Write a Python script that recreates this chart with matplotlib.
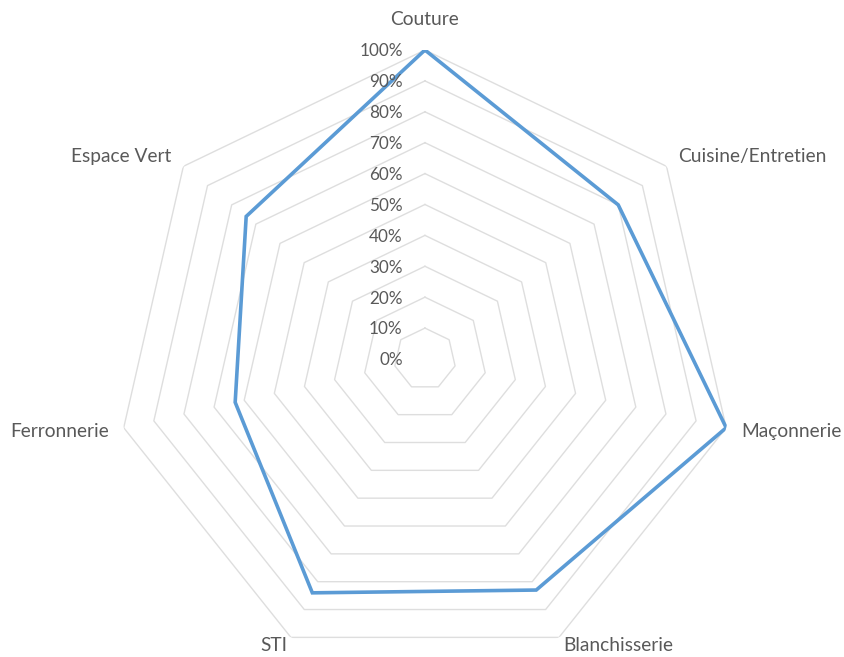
import numpy as np
import matplotlib
matplotlib.use('Agg')
import matplotlib.pyplot as plt

categories = ['Couture', 'Cuisine/Entretien', 'Maçonnerie', 'Blanchisserie',
              'STI', 'Ferronnerie', 'Espace Vert']
values = [1.00, 0.80, 1.00, 0.83, 0.84, 0.63, 0.74]
ticks = [0.0, 0.1, 0.2, 0.3, 0.4, 0.5, 0.6, 0.7, 0.8, 0.9, 1.0]
tick_labels = ['0%', '10%', '20%', '30%', '40%', '50%', '60%', '70%', '80%', '90%', '100%']

plt.rcParams['font.family'] = ['Lato', 'DejaVu Sans']
text_color = '#595959'
grid_color = '#dedede'
line_color = '#5b9bd5'

n = len(categories)
angles = np.linspace(0, 2 * np.pi, n, endpoint=False)
closed = np.append(angles, angles[0])

fig = plt.figure(figsize=(8.44, 6.57), dpi=100)
ax = fig.add_axes([0.1374, -0.0167, 0.7322, 0.9406], projection='polar')
ax.set_theta_offset(np.pi / 2)
ax.set_theta_direction(-1)
ax.set_ylim(0, 1)
ax.grid(False)
ax.spines['polar'].set_visible(False)
ax.set_xticks([])
ax.set_yticks([])
ax.patch.set_visible(False)

# heptagon rings
for t in ticks[1:]:
    ax.plot(closed, [t] * (n + 1), color=grid_color, lw=1, zorder=1)

# data
ax.plot(closed, values + values[:1], color=line_color, lw=2.6, zorder=3,
        solid_joinstyle='miter')

# radial tick labels
for t, lab in zip(ticks, tick_labels):
    ax.annotate(lab, xy=(0, t), xytext=(-16, -1), textcoords='offset points',
                ha='right', va='center', fontsize=12.3, color=text_color, zorder=4)

# category labels
align = ['center', 'left', 'left', 'left', 'right', 'right', 'right']
radius = [1.1, 1.05, 1.05, 1.03, 1.03, 1.05, 1.05]
for a, lab, ha, r in zip(angles, categories, align, radius):
    ax.text(a, r, lab, ha=ha, va='center', fontsize=13.8, color=text_color)

fig.savefig('out.png', dpi=100)
